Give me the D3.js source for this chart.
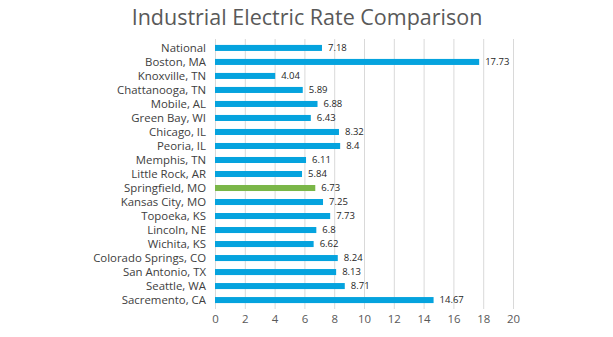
<!DOCTYPE html>
<html>
<head>
<meta charset="utf-8">
<script src="https://cdn.jsdelivr.net/npm/d3@7"></script>
<style>
  body { margin: 0; background: #fff; }
  text { font-family: 'Open Sans', sans-serif; }
</style>
</head>
<body>
<svg id="chart"></svg>
<script>
const cities = ['National', 'Boston, MA', 'Knoxville, TN', 'Chattanooga, TN', 'Mobile, AL',
  'Green Bay, WI', 'Chicago, IL', 'Peoria, IL', 'Memphis, TN', 'Little Rock, AR',
  'Springfield, MO', 'Kansas City, MO', 'Topoeka, KS', 'Lincoln, NE', 'Wichita, KS',
  'Colorado Springs, CO', 'San Antonio, TX', 'Seattle, WA', 'Sacremento, CA']
const rates = [7.18, 17.73, 4.04, 5.89, 6.88, 6.43, 8.32, 8.4, 6.11, 5.84,
  6.73, 7.25, 7.73, 6.8, 6.62, 8.24, 8.13, 8.71, 14.67]
const xTicks = [0, 2, 4, 6, 8, 10, 12, 14, 16, 18, 20]
const highlight = 'Springfield, MO'

const width = 613
const height = 337
const margin = { top: 41, left: 215 }
const plotW = 298
const plotH = 266

const data = cities.map((c, i) => ({ city: c, rate: rates[i] }))

const svg = d3.select('#chart')
  .attr('width', width)
  .attr('height', height)

const g = svg.append('g')
  .attr('transform', 'translate(' + margin.left + ',' + margin.top + ')')

const xScale = d3.scaleLinear().domain([0, 20]).range([0, plotW])
const yScale = d3.scaleBand().domain(cities).range([0, plotH]).paddingInner(0.57).paddingOuter(0.28)

// vertical gridlines
g.selectAll('.grid')
  .data(xTicks)
  .enter()
  .append('line')
  .attr('x1', d => xScale(d) + 0.5)
  .attr('x2', d => xScale(d) + 0.5)
  .attr('y1', -2)
  .attr('y2', plotH + 2)
  .attr('stroke', '#d9d9d9')
  .attr('stroke-width', 1)

// bars
g.selectAll('.bar')
  .data(data)
  .enter()
  .append('rect')
  .attr('x', xScale(0))
  .attr('y', d => yScale(d.city))
  .attr('width', d => xScale(d.rate) - xScale(0))
  .attr('height', yScale.bandwidth())
  .attr('fill', d => d.city === highlight ? '#7ab648' : '#05a3de')

// value labels
g.selectAll('.val')
  .data(data)
  .enter()
  .append('text')
  .attr('x', d => xScale(d.rate) + 6)
  .attr('y', d => yScale(d.city) + yScale.bandwidth() / 2)
  .attr('dy', '0.35em')
  .attr('font-size', 9.5)
  .attr('fill', '#262626')
  .text(d => d.rate)

// category axis
const yAxis = g.append('g')
  .call(d3.axisLeft(yScale).tickSize(0).tickPadding(9))
yAxis.select('.domain').remove()
yAxis.selectAll('text')
  .attr('font-size', 11.4)
  .attr('font-family', "'Open Sans', sans-serif")
  .attr('fill', '#404040')

// value axis
const xAxis = g.append('g')
  .attr('transform', 'translate(0,' + plotH + ')')
  .call(d3.axisBottom(xScale).tickValues(xTicks).tickSize(0).tickPadding(8))
xAxis.select('.domain').remove()
xAxis.selectAll('text')
  .attr('font-size', 11.4)
  .attr('font-family', "'Open Sans', sans-serif")
  .attr('fill', '#595959')

// headline
svg.append('text')
  .attr('x', 307)
  .attr('y', 25)
  .attr('text-anchor', 'middle')
  .attr('font-size', 21.5)
  .attr('fill', '#595959')
  .text('Industrial Electric Rate Comparison')
</script>
</body>
</html>
